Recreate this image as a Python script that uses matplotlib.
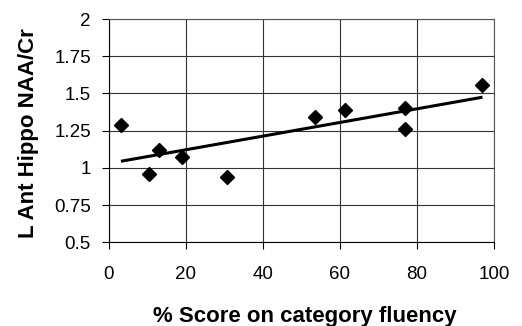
import numpy as np
import matplotlib
matplotlib.use("Agg")
import matplotlib.pyplot as plt

plt.rcParams['font.family'] = ['Liberation Sans', 'DejaVu Sans']

# Data
score = [3.1, 10.3, 13.0, 19.0, 30.7, 53.4, 61.3, 76.9, 76.9, 97.0]
naa_cr = [1.29, 0.96, 1.12, 1.07, 0.94, 1.34, 1.39, 1.40, 1.26, 1.555]
x_ticks = [0, 20, 40, 60, 80, 100]
y_ticks = [0.5, 0.75, 1, 1.25, 1.5, 1.75, 2]
y_tick_labels = ['0.5', '0.75', '1', '1.25', '1.5', '1.75', '2']

fig = plt.figure(figsize=(5.22, 3.26), dpi=100)
ax = fig.add_axes([109/522, 1 - 242.3/326, (494 - 109)/522, (242.3 - 19)/326])

ax.set_xlim(0, 100)
ax.set_ylim(0.5, 2)
ax.set_xticks(x_ticks)
ax.set_yticks(y_ticks)
ax.set_yticklabels(y_tick_labels)
ax.grid(True, color='#333333', linewidth=0.8)
ax.set_axisbelow(True)
for s in ax.spines.values():
    s.set_color('#555555')
    s.set_linewidth(0.8)
ax.spines['left'].set_color('black')
ax.spines['bottom'].set_color('black')

ax.tick_params(axis='both', direction='out', length=5, width=0.8, labelsize=13.5, colors='black')
ax.tick_params(axis='x', pad=12)
ax.tick_params(axis='y', pad=8)

# trend line (least squares)
m, b = np.polyfit(score, naa_cr, 1)
xs = np.array([min(score), max(score)])
ax.plot(xs, m * xs + b, color='black', linewidth=2.2, solid_capstyle='butt', zorder=3)

ax.plot(score, naa_cr, linestyle='none', marker='D', markersize=7, color='black', zorder=4)

ax.set_xlabel('% Score on category fluency', fontsize=16, fontweight='bold', va='baseline')
ax.xaxis.set_label_coords(0.508, -0.3556)
ax.set_ylabel('L Ant Hippo NAA/Cr', fontsize=16, fontweight='bold', va='baseline')
ax.yaxis.set_label_coords(-0.194, 0.487)

fig.savefig('out.png', dpi=100)
